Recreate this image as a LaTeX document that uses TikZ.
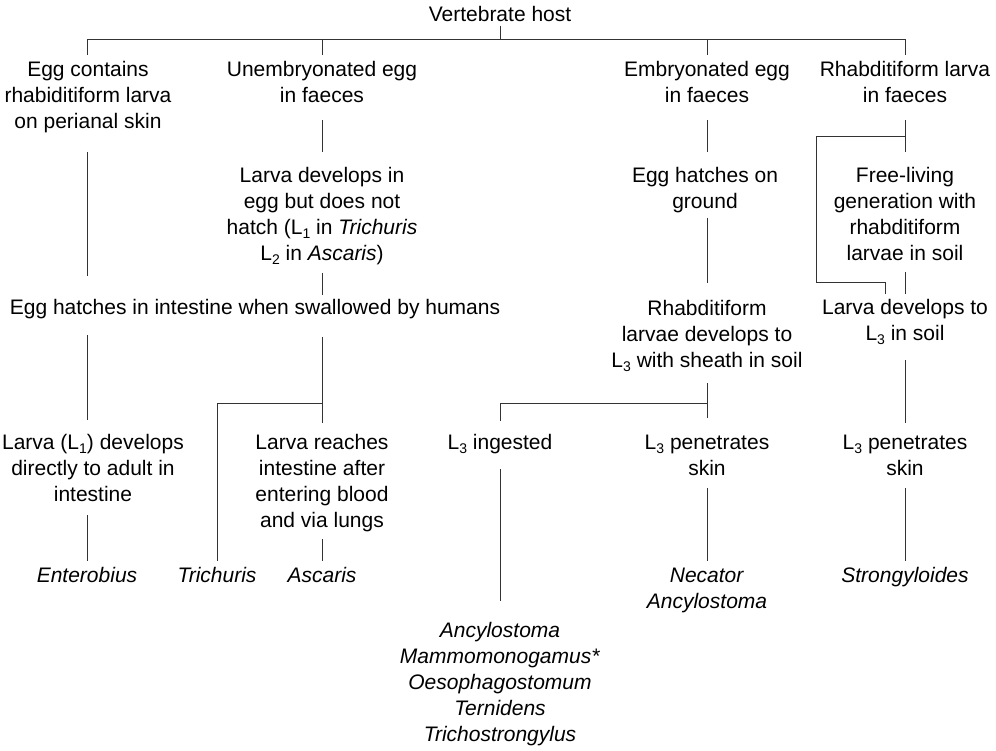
\documentclass[tikz,border=0pt]{standalone}
\usepackage{fontspec}
\setmainfont{Liberation Sans}
\usetikzlibrary{calc}
\newcommand{\lsub}[1]{\raisebox{-4pt}{\fontsize{14}{14}\selectfont #1}}
\tikzset{
  lbl/.style={font=\fontsize{21}{26}\selectfont, align=center, inner sep=0pt, anchor=base},
  conn/.style={draw=black!80, line width=1pt}
}
\begin{document}
\begin{tikzpicture}[x=1pt,y=-1pt]
\fill[white] (0,0) rectangle (996,751);
\useasboundingbox (0,0) rectangle (996,751);

% nodes (anchored at the baseline of their last line)
\node[lbl] (vh) at (500,21.7) {Vertebrate host};
\node[lbl] (n1a) at (88,129) {Egg contains\\rhabiditiform larva\\on perianal skin};
\node[lbl] (n1b) at (322,103) {Unembryonated egg\\in faeces};
\node[lbl] (n1c) at (707,103) {Embryonated egg\\in faeces};
\node[lbl] (n1d) at (905,103) {Rhabditiform larva\\in faeces};

\node[lbl] (n2b) at (322,261) {Larva develops in\\egg but does not\\hatch (L\lsub{1} in \textit{Trichuris}\\L\lsub{2} in \textit{Ascaris})};
\node[lbl] (n2c) at (705,209) {Egg hatches on\\ground};
\node[lbl] (n2d) at (905,261) {Free-living\\generation with\\rhabditiform\\larvae in soil};

\node[lbl] (n3a) at (255,315) {Egg hatches in intestine when swallowed by humans};
\node[lbl] (n3c) at (707,367) {Rhabditiform\\larvae develops to\\L\lsub{3} with sheath in soil};
\node[lbl] (n3d) at (905,341) {Larva develops to\\L\lsub{3} in soil};

\node[lbl] (n4a) at (93,501) {Larva (L\lsub{1}) develops\\directly to adult in\\intestine};
\node[lbl] (n4b) at (322,527) {Larva reaches\\intestine after\\entering blood\\and via lungs};
\node[lbl] (n4c) at (500,449) {L\lsub{3} ingested};
\node[lbl] (n4d) at (707,475) {L\lsub{3} penetrates\\skin};
\node[lbl] (n4e) at (905,475) {L\lsub{3} penetrates\\skin};

\node[lbl] (n5a) at (87,582) {\textit{Enterobius}};
\node[lbl] (n5b) at (217,582) {\textit{Trichuris}};
\node[lbl] (n5c) at (322,582) {\textit{Ascaris}};
\node[lbl] (n5d) at (707,608) {\textit{Necator}\\\textit{Ancylostoma}};
\node[lbl] (n5e) at (905,582) {\textit{Strongyloides}};
\node[lbl] (n6) at (500,741) {\textit{Ancylostoma}\\\textit{Mammomonogamus*}\\\textit{Oesophagostomum}\\\textit{Ternidens}\\\textit{Trichostrongylus}};

\coordinate (j0) at (500,40);

% connectors
\draw[conn] ($(vh.base)+(0,4.3)$) -- (j0);
\draw[conn] ($(n5a.base |- n1a.base)+(0,-74)$) -- (n5a.base |- j0) -- (n1d.base |- j0) -- ($(n1d.base)+(0,-48)$);
\draw[conn] ($(n1b.base)+(0,-48)$) -- (n1b.base |- j0);
\draw[conn] ($(n1c.base)+(0,-48)$) -- (n1c.base |- j0);

\draw[conn] ($(n5a.base |- n1a.base)+(0,23)$) -- ($(n5a.base |- n3a.base)+(0,-39)$);
\draw[conn] ($(n1b.base)+(0,17)$) -- ($(n2b.base)+(0,-109)$);
\draw[conn] ($(n2b.base)+(0,12)$) -- ($(n2b.base |- n3a.base)+(0,-20)$);
\draw[conn] ($(n1c.base)+(0,17)$) -- ($(n1c.base |- n2c.base)+(0,-57)$);
\draw[conn] ($(n1c.base |- n2c.base)+(0,9)$) -- ($(n3c.base)+(0,-84)$);
\draw[conn] ($(n1d.base)+(0,17)$) -- ($(n2d.base)+(0,-109)$);
\draw[conn] ($(n1d.base)+(0,34)$) -| ($(n3d.base)+(-89,-58)$) -- ($(n3d.base)+(-20,-58)$) -- ($(n3d.base)+(-20,-47)$);
\draw[conn] ($(n2d.base)+(0,11)$) -- ($(n3d.base)+(0,-47)$);

\draw[conn] ($(n5a.base |- n3a.base)+(0,20)$) -- ($(n5a.base |- n4a.base)+(0,-81)$);
\draw[conn] ($(n4b.base |- n3a.base)+(0,22)$) -- ($(n4b.base)+(0,-104)$);
\draw[conn] ($(n4b.base)+(0,-124)$) -| ($(n5b.base)+(0,-21)$);
\draw[conn] ($(n4b.base)+(0,12)$) -- ($(n5c.base)+(0,-21)$);
\draw[conn] ($(n5a.base |- n4a.base)+(0,14)$) -- ($(n5a.base)+(0,-21)$);

\draw[conn] ($(n3c.base)+(0,16)$) -- ($(n4d.base)+(0,-57)$);
\draw[conn] ($(n4d.base)+(0,-72)$) -| ($(n4c.base)+(0,-28)$);
\draw[conn] ($(n4c.base)+(0,20)$) -- ($(n6.base)+(0,-140)$);
\draw[conn] ($(n4d.base)+(0,13)$) -- ($(n5d.base)+(0,-47)$);
\draw[conn] ($(n3d.base)+(0,19)$) -- ($(n4e.base)+(0,-52)$);
\draw[conn] ($(n4e.base)+(0,13)$) -- ($(n5e.base)+(0,-21)$);
\end{tikzpicture}
\end{document}
